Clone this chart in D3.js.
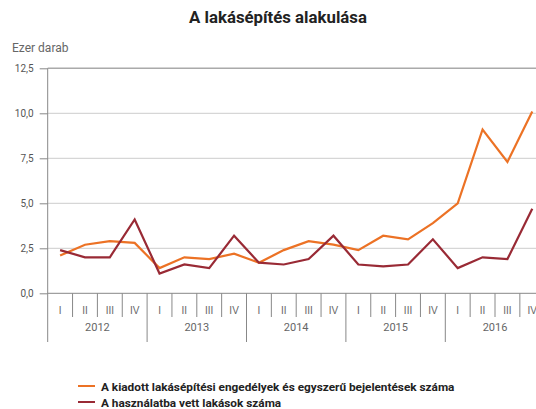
<!DOCTYPE html>
<html><head><meta charset="utf-8">
<script src="https://cdn.jsdelivr.net/npm/d3@7"></script>
<style>
body{margin:0;background:#fff;}
svg{display:block;font-family:Roboto, "Liberation Sans", sans-serif;}
</style></head>
<body>
<svg id="chart" width="536" height="409"></svg>
<script>
const years = ["2012","2013","2014","2015","2016"];
const quarters = ["I","II","III","IV"];
const permits = [2.1,2.7,2.9,2.8, 1.4,2.0,1.9,2.2, 1.7,2.4,2.9,2.7, 2.4,3.2,3.0,3.9, 5.0,9.1,7.3,10.1];
const completed = [2.4,2.0,2.0,4.1, 1.1,1.6,1.4,3.2, 1.7,1.6,1.9,3.2, 1.6,1.5,1.6,3.0, 1.4,2.0,1.9,4.7];
const yTicks = [0,2.5,5,7.5,10,12.5];
const seriesNames = ["A kiadott lakásépítési engedélyek és egyszerű bejelentések száma","A használatba vett lakások száma"];
const seriesColors = ["#ec7225","#992a35"];
const title = "A lakásépítés alakulása";
const unitLabel = "Ezer darab";

const keys = [];
years.forEach(y => quarters.forEach(q => keys.push(y + "-" + q)));

const svg = d3.select("#chart");
const x = d3.scaleBand().domain(keys).range([47.7, 544.7]);
const y = d3.scaleLinear().domain([0,12.5]).range([293.3, 68.3]);
const fmt = d => d3.format(".1f")(d).replace(".", ",");

// title
svg.append("text").attr("x",278).attr("y",23).attr("text-anchor","middle")
  .attr("font-size",16.8).attr("font-weight","bold").attr("fill","#222").text(title);
svg.append("text").attr("x",12).attr("y",52).attr("font-size",12).attr("fill","#666").text(unitLabel);

// gridlines
svg.append("g").selectAll("line").data(yTicks.filter(t=>t>0)).join("line")
  .attr("x1",47.7).attr("x2",536).attr("y1",d=>y(d)).attr("y2",d=>y(d))
  .attr("stroke",d=>d===12.5?"#aaa":"#ccc").attr("stroke-width",d=>d===12.5?1.5:1);

// y axis
const yAxis = d3.axisLeft(y).tickValues(yTicks).tickFormat(fmt).tickSize(8).tickPadding(6);
const gy = svg.append("g").attr("transform","translate(47.7,0)").call(yAxis);
gy.select(".domain").remove();
gy.selectAll(".tick line").attr("stroke","#888");
gy.selectAll(".tick text").attr("font-size",10).attr("fill","#555").attr("font-family","Roboto, sans-serif");
svg.append("line").attr("x1",47.7).attr("x2",47.7).attr("y1",68.3).attr("y2",342).attr("stroke","#888");

// x axis baseline
svg.append("line").attr("x1",47.7).attr("x2",536).attr("y1",y(0)).attr("y2",y(0)).attr("stroke","#888");

// quarter labels & dividers
const gx = svg.append("g").attr("transform",`translate(0,${y(0)})`)
  .call(d3.axisBottom(x).tickSize(0).tickPadding(0).tickFormat(k=>k.split("-")[1]));
gx.select(".domain").remove();
gx.selectAll(".tick text").attr("y",21).attr("dy",0).attr("font-size",10).attr("fill","#666");
svg.append("g").selectAll("line").data(keys.filter((k,i)=>i%4!==0)).join("line")
  .attr("x1",k=>x(k)).attr("x2",k=>x(k)).attr("y1",y(0)).attr("y2",317).attr("stroke","#888");
svg.append("g").selectAll("line").data(keys.filter((k,i)=>i%4===0 && i>0)).join("line")
  .attr("x1",k=>x(k)).attr("x2",k=>x(k)).attr("y1",y(0)).attr("y2",342).attr("stroke","#888");
svg.append("g").selectAll("text").data(years).join("text")
  .attr("x",yr=>x(yr+"-I") + 2*x.bandwidth()).attr("y",331).attr("text-anchor","middle")
  .attr("font-size",11).attr("fill","#666").text(d=>d);

// lines
const line = d3.line().x((d,i)=>x(keys[i])+x.bandwidth()/2).y(d=>y(d));
[permits, completed].forEach((s,i)=>{
  svg.append("path").datum(s).attr("d",line).attr("fill","none")
    .attr("stroke",seriesColors[i]).attr("stroke-width",2.2).attr("stroke-linejoin","miter");
});

// legend
const lg = svg.append("g");
seriesNames.forEach((n,i)=>{
  const yy = 386 + i*16;
  lg.append("line").attr("x1",78).attr("x2",95).attr("y1",yy).attr("y2",yy)
    .attr("stroke",seriesColors[i]).attr("stroke-width",2);
  lg.append("text").attr("x",101).attr("y",yy+4.5).attr("font-size",11.8).attr("font-weight","bold")
    .attr("fill","#222").text(n);
});
</script>
</body></html>
